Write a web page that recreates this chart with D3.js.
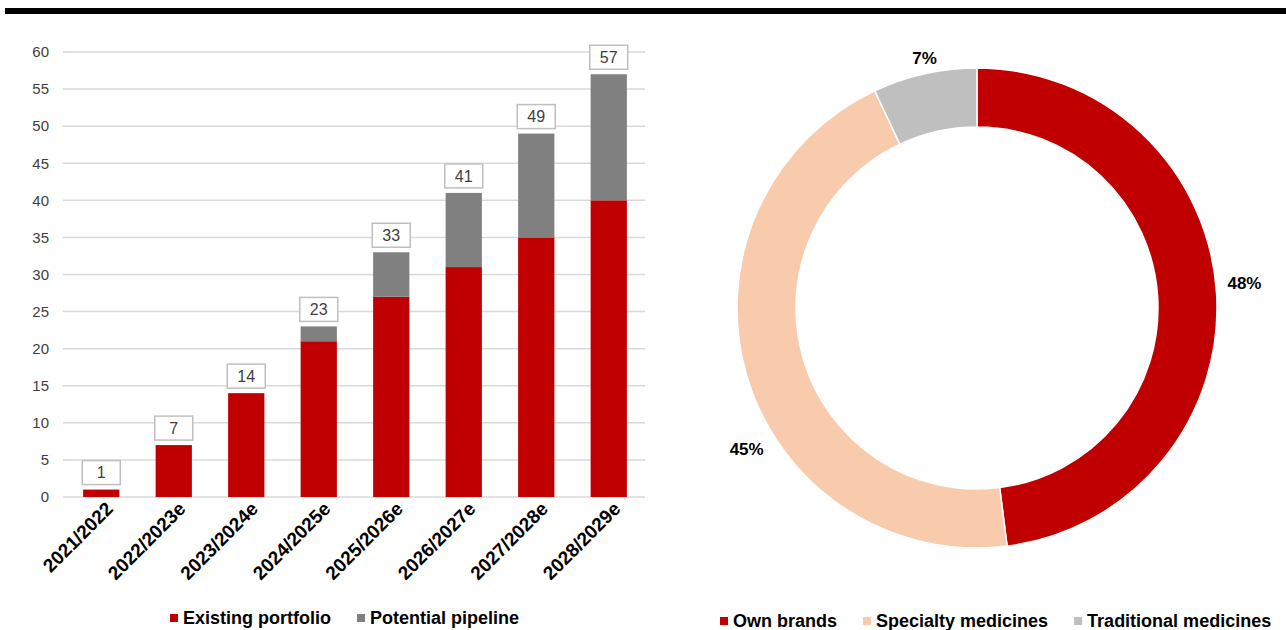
<!DOCTYPE html>
<html>
<head>
<meta charset="utf-8">
<script src="https://cdn.jsdelivr.net/npm/d3@7"></script>
<style>
  body { margin: 0; background: #fff; }
  svg { display: block; font-family: 'Liberation Sans', Arial, sans-serif; }
</style>
</head>
<body>
<div id="chart"></div>
<script>
const years = ['2021/2022', '2022/2023e', '2023/2024e', '2024/2025e', '2025/2026e', '2026/2027e', '2027/2028e', '2028/2029e'];
const existing = [1, 7, 14, 21, 27, 31, 35, 40];
const pipeline = [0, 0, 0, 2, 6, 10, 14, 17];
const barSeries = ['Existing portfolio', 'Potential pipeline'];
const yTicks = [0, 5, 10, 15, 20, 25, 30, 35, 40, 45, 50, 55, 60];

const segments = ['Own brands', 'Specialty medicines', 'Traditional medicines'];
const shares = [48, 45, 7];

const W = 1286, H = 630;
const red = '#c00000', grey = '#808080';
const donutFill = [red, '#f8cbad', '#bfbfbf'];
const labelNudge = [[0, -8], [27, 66], [6, 12]];

const svg = d3.select('#chart').append('svg')
  .attr('width', W)
  .attr('height', H);

// heavy rule on top
svg.append('rect')
  .attr('x', 5).attr('y', 8)
  .attr('width', W - 5).attr('height', 6)
  .attr('fill', '#000');

// ---- stacked bars ----
const x = d3.scaleBand()
  .domain(years)
  .range([65, 645])
  .paddingInner(0.5)
  .paddingOuter(0.25);
const y = d3.scaleLinear()
  .domain([0, 60])
  .range([497, 52]);

const grid = svg.append('g');
grid.selectAll('line')
  .data(yTicks)
  .join('line')
  .attr('x1', 63).attr('x2', 645)
  .attr('y1', d => y(d)).attr('y2', d => y(d))
  .attr('stroke', '#d9d9d9')
  .attr('stroke-width', 1.5);

grid.selectAll('text')
  .data(yTicks)
  .join('text')
  .attr('x', 49)
  .attr('y', d => y(d))
  .attr('dy', '0.35em')
  .attr('text-anchor', 'end')
  .style('font-size', '15px')
  .style('fill', '#404040')
  .text(d => d);

const rows = years.map((yr, i) => ({ yr, a: existing[i], b: pipeline[i], total: existing[i] + pipeline[i] }));

const bars = svg.append('g').selectAll('g')
  .data(rows)
  .join('g');

bars.append('rect')
  .attr('x', d => x(d.yr))
  .attr('width', x.bandwidth())
  .attr('y', d => y(d.a))
  .attr('height', d => y(0) - y(d.a))
  .attr('fill', red);

bars.filter(d => d.b > 0).append('rect')
  .attr('x', d => x(d.yr))
  .attr('width', x.bandwidth())
  .attr('y', d => y(d.total))
  .attr('height', d => y(d.a) - y(d.total))
  .attr('fill', grey);

bars.append('rect')
  .attr('x', d => x(d.yr) + x.bandwidth() / 2 - 19)
  .attr('y', d => y(d.total) - 29)
  .attr('width', 38)
  .attr('height', 24)
  .attr('fill', '#fff')
  .attr('stroke', '#bfbfbf')
  .attr('stroke-width', 1.5);

bars.append('text')
  .attr('x', d => x(d.yr) + x.bandwidth() / 2)
  .attr('y', d => y(d.total) - 17)
  .attr('dy', '0.36em')
  .attr('text-anchor', 'middle')
  .style('font-size', '16px')
  .style('fill', '#404040')
  .text(d => d.total);

svg.append('g').selectAll('text')
  .data(years)
  .join('text')
  .attr('transform', d => `translate(${x(d) + x.bandwidth() / 2 + 13}, 510) rotate(-45)`)
  .attr('text-anchor', 'end')
  .style('font-size', '19px')
  .style('font-weight', 'bold')
  .style('fill', '#000')
  .text(d => d);

// legend helper
function legend(items, colors, x0, yBase) {
  const g = svg.append('g');
  let cx = x0;
  items.forEach((name, i) => {
    g.append('rect')
      .attr('x', cx).attr('y', yBase - 10)
      .attr('width', 8).attr('height', 8)
      .attr('fill', colors[i]);
    const t = g.append('text')
      .attr('x', cx + 13)
      .attr('y', yBase)
      .style('font-size', '18px')
      .style('font-weight', 'bold')
      .style('fill', '#000')
      .text(name);
    cx += 13 + t.node().getComputedTextLength() + 26;
  });
}

legend(barSeries, [red, grey], 170, 624);

// ---- donut ----
const cx = 977, cy = 308;
const pie = d3.pie().sort(null).value(d => d.v);
const arcs = pie(segments.map((s, i) => ({ s, v: shares[i] })));
const arc = d3.arc().innerRadius(181).outerRadius(240);
const labelArc = d3.arc().innerRadius(268).outerRadius(268);

const donut = svg.append('g').attr('transform', `translate(${cx},${cy})`);
donut.selectAll('path')
  .data(arcs)
  .join('path')
  .attr('d', arc)
  .attr('fill', (d, i) => donutFill[i])
  .attr('stroke', '#fff')
  .attr('stroke-width', 1.5);

donut.selectAll('text')
  .data(arcs)
  .join('text')
  .attr('x', (d, i) => labelArc.centroid(d)[0] + labelNudge[i][0])
  .attr('y', (d, i) => labelArc.centroid(d)[1] + labelNudge[i][1])
  .attr('dy', '0.35em')
  .attr('text-anchor', 'middle')
  .style('font-size', '17px')
  .style('font-weight', 'bold')
  .style('fill', '#000')
  .text(d => `${d.data.v}%`);

legend(segments, donutFill, 720, 627);
</script>
</body>
</html>
